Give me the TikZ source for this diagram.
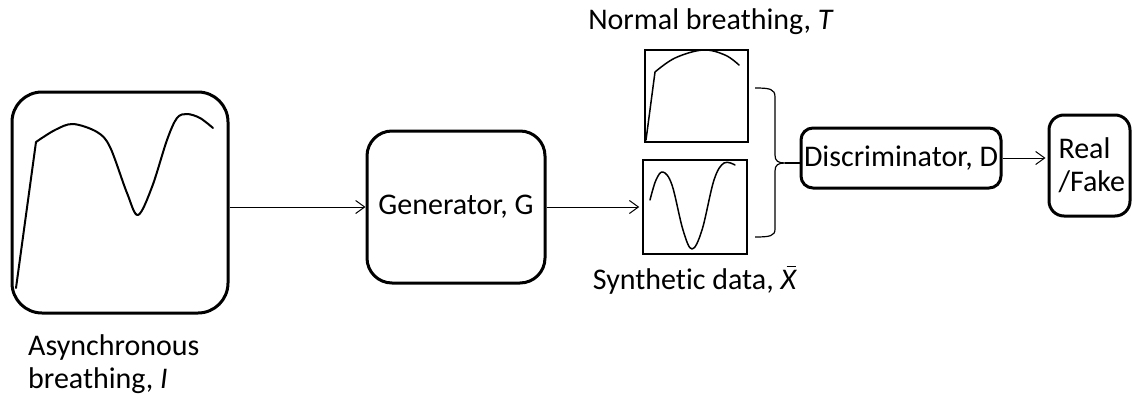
\documentclass[tikz,border=0pt]{standalone}
\usepackage{fontspec}
\setmainfont{Carlito}[Ligatures=NoCommon]
\usetikzlibrary{arrows.meta}
\newcommand{\xbarital}{\rlap{\hspace{0.2em}\rule[0.74em]{0.3em}{0.05em}}\textit{X}}
\begin{document}
\begin{tikzpicture}[x=1pt,y=-1pt,
  thickbox/.style={draw, line width=3pt, rounded corners=#1, inner sep=0pt},
  thinbox/.style={draw, line width=1.5pt, inner sep=0pt},
  wave/.style={line width=2pt, line join=round, line cap=round},
  arr/.style={line width=1pt, -{Straight Barb[length=9pt,width=13pt,line width=1pt]}},
  lbl/.style={inner sep=0pt, font=\fontsize{30}{33}\selectfont}]
\useasboundingbox (0,0) rectangle (1132,399);
% boxes
\node[thickbox=30pt, minimum width=216pt, minimum height=221pt] (I) at (120,202.5) {};
\node[thickbox=25pt, minimum width=178pt, minimum height=152pt, lbl] (gen) at (456,207) {Generator, G};
\node[thinbox, minimum width=103pt, minimum height=92pt] (T) at (696.5,96) {};
\node[thinbox, minimum width=104pt, minimum height=94pt] (X) at (695,207) {};
\node[thickbox=12pt, minimum width=200pt, minimum height=60pt, lbl] (D) at (901,158) {Discriminator, D};
\node[thickbox=15pt, minimum width=81pt, minimum height=101pt, lbl, align=left, text width=62pt] (RF) at (1089.5,165.5) {Real\\/Fake};
% labels
\node[lbl, anchor=north west, align=left] (Ilbl) at (28,334) {Asynchronous\\breathing, \textit{I}};
\node[lbl] (Tlbl) at (711,22) {Normal breathing, \textit{T}};
\node[lbl] (Xlbl) at (695,280) {Synthetic data, \xbarital};
% waves
\draw[wave] (16,288) -- (36,142) plot[smooth, tension=0.55] coordinates {(36,142) (55,130) (73,124) (97,132) (110,147) (127,193) (138,215) (152,187) (167,140) (177,118) (187,114) (200,118) (213,128)};
\draw[wave, line width=1.5pt] (646,140) -- (655,72) plot[smooth, tension=0.6] coordinates {(655,72) (675,58) (703,50) (725,55) (739,65)};
\draw[wave, line width=1.5pt] plot[smooth, tension=0.6] coordinates {(650,200) (656,180) (663,172) (672,185) (683,230) (692,249) (702,230) (714,180) (724,163) (735,165)};
% brace
\coordinate (brtip) at (785,163);
\draw[line width=1.2pt] (755,88) .. controls (770,88) and (775,89) .. (775,97) -- (775,155) .. controls (775,161) and (778,163) .. (brtip) .. controls (778,163) and (775,165) .. (775,171) -- (775,229) .. controls (775,236) and (770,237) .. (755,237);
\draw[line width=1.2pt] (brtip) -- (D.west |- brtip);
% arrows
\draw[arr] (I.east |- gen.west) -- (gen.west);
\draw[arr] (gen.east) -- ([xshift=-3pt]X.west |- gen.east);
\draw[arr] (D.east) -- ([xshift=-2pt]RF.west |- D.east);
\end{tikzpicture}
\end{document}
